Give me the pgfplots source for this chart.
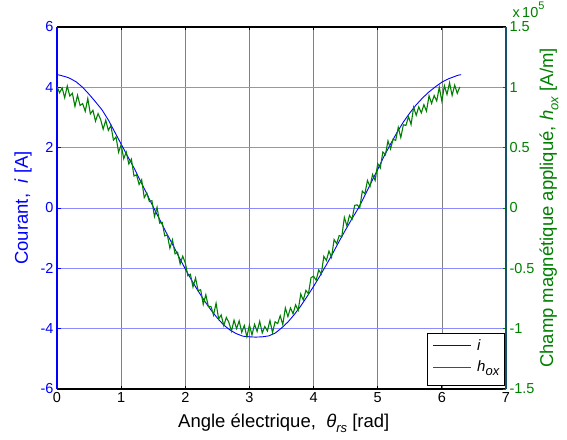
\documentclass[border=0pt]{standalone}
\usepackage{fontspec}
\setmainfont{Liberation Sans}
\usepackage{pgfplots}
\pgfplotsset{compat=1.18}
\definecolor{mblue}{rgb}{0,0,1}
\definecolor{mgreen}{rgb}{0,0.5,0}
\definecolor{rspine}{rgb}{0.08,0.32,0.42}
\newcommand\tickfont{\fontsize{14.5}{16}\selectfont}
\newcommand\labfont{\fontsize{18.5}{21}\selectfont}
\newcommand\subfont{\fontsize{13}{14}\selectfont}
\newcommand\legfont{\fontsize{15}{17}\selectfont}
\pgfplotsset{base/.style={at={(57pt,50pt)}, anchor=south west, scale only axis,
  width=449pt, height=362pt, xmin=0, xmax=7,
  /pgf/number format/assume math mode=true, tick label style={font=\tickfont}}}
\begin{document}
\begin{tikzpicture}
\path[use as bounding box] (0,0) rectangle (567pt,439pt);
% vertical grid
\begin{axis}[base, ymin=-6, ymax=6, xtick={1,2,3,4,5,6}, ytick=\empty,
  xticklabels={,,}, xmajorgrids, major grid style={black!50, line width=0.7pt},
  axis line style={draw=none}, major tick length=0pt]
\end{axis}
% horizontal grid
\begin{axis}[base, ymin=-6, ymax=6, xtick=\empty, ytick={-4,-2,0,2,4},
  yticklabels={,,}, ymajorgrids, major grid style={blue!45, line width=0.7pt},
  axis line style={draw=none}, major tick length=0pt]
\end{axis}
% left axis: current
\begin{axis}[base, ymin=-6, ymax=6, axis x line*=box, axis y line*=left,
  xtick={0,1,2,3,4,5,6,7}, ytick={-6,-4,-2,0,2,4,6},
  tick align=inside, major tick length=3.5pt,
  x axis line style={black, line width=1.6pt, -},
  y axis line style={mblue, line width=1.6pt, -},
  xtick style={black, line width=0.8pt},
  ytick style={mblue, line width=0.8pt},
  yticklabel style={text=mblue}, xticklabel style={text=black},
  clip mode=individual]
\addplot[mblue, line width=0.9pt] coordinates {
(0,4.42)(0.05,4.40)(0.1,4.37)(0.15,4.34)(0.2,4.30)(0.3,4.18)(0.4,4.0)(0.5,3.77)
(0.6,3.52)(0.7,3.26)(0.8,2.92)(0.9,2.52)(1.0,2.12)(1.1,1.72)(1.2,1.33)(1.3,0.9)
(1.4,0.47)(1.5,0.04)(1.6,-0.38)(1.7,-0.8)(1.8,-1.2)(1.9,-1.62)(2.0,-2.02)(2.1,-2.4)
(2.2,-2.75)(2.3,-3.08)(2.4,-3.38)(2.5,-3.65)(2.6,-3.88)(2.7,-4.05)(2.8,-4.17)
(2.9,-4.25)(3.0,-4.27)(3.1,-4.28)(3.2,-4.27)(3.3,-4.24)(3.4,-4.15)(3.5,-3.98)
(3.6,-3.78)(3.7,-3.53)(3.8,-3.25)(3.9,-2.93)(4.0,-2.6)(4.1,-2.25)(4.2,-1.88)
(4.3,-1.5)(4.4,-1.1)(4.5,-0.72)(4.6,-0.35)(4.7,0.0)(4.8,0.42)(4.9,0.85)(5.0,1.28)
(5.1,1.72)(5.2,2.12)(5.3,2.5)(5.4,2.85)(5.5,3.15)(5.6,3.42)(5.7,3.65)(5.8,3.85)
(5.9,4.02)(6.0,4.17)(6.1,4.28)(6.2,4.36)(6.25,4.40)(6.3,4.42)};
\node[font=\labfont, anchor=base] at ([yshift=-38pt]rel axis cs:0.505,0)
  {Angle électrique,\ \ \textit{θ}\raisebox{-0.55ex}{\subfont\textit{rs}} [rad]};
\node[font=\labfont, text=mblue, rotate=90, anchor=center] at ([xshift=-34pt]rel axis cs:0,0.5)
  {Courant,\ \ \textit{i} [A]};
\end{axis}
% right axis: field
\begin{axis}[base, ymin=-1.5, ymax=1.5, axis x line=none, axis y line*=right,
  ytick={-1.5,-1,-0.5,0,0.5,1,1.5},
  tick align=inside, major tick length=3.5pt,
  y axis line style={rspine, line width=1.6pt, -},
  ytick style={mgreen, line width=0.8pt},
  yticklabel style={text=mgreen},
  clip mode=individual]
\addplot[mgreen, line width=1.1pt] coordinates {
(0.00,1.005)(0.04,0.955)(0.08,0.995)(0.12,0.914)(0.16,1.011)(0.20,0.928)(0.24,0.950)
(0.28,0.842)(0.32,0.935)(0.36,0.850)(0.40,0.865)(0.44,0.801)(0.48,0.907)(0.52,0.780)
(0.56,0.810)(0.60,0.720)(0.64,0.782)(0.68,0.734)(0.72,0.653)(0.76,0.728)(0.80,0.643)
(0.84,0.683)(0.88,0.563)(0.92,0.589)(0.96,0.462)(1.00,0.525)(1.04,0.409)(1.08,0.463)
(1.12,0.365)(1.16,0.405)(1.20,0.265)(1.24,0.275)(1.28,0.195)(1.32,0.235)(1.36,0.085)
(1.40,0.125)(1.44,0.053)(1.48,0.061)(1.52,-0.071)(1.56,0.007)(1.60,-0.125)(1.64,-0.118)
(1.68,-0.231)(1.72,-0.223)(1.76,-0.333)(1.80,-0.263)(1.84,-0.380)(1.88,-0.367)
(1.92,-0.463)(1.96,-0.399)(2.00,-0.455)(2.04,-0.562)(2.08,-0.549)(2.12,-0.655)
(2.16,-0.580)(2.20,-0.685)(2.24,-0.677)(2.28,-0.799)(2.32,-0.719)(2.36,-0.817)
(2.40,-0.815)(2.44,-0.887)(2.48,-0.789)(2.52,-0.919)(2.56,-0.887)(2.60,-0.975)
(2.64,-0.907)(2.68,-0.949)(2.72,-1.020)(2.76,-0.930)(2.80,-1.000)(2.84,-0.935)
(2.88,-1.030)(2.92,-0.974)(2.96,-1.067)(3.00,-0.970)(3.04,-1.052)(3.08,-0.964)
(3.12,-1.023)(3.16,-0.939)(3.20,-1.035)(3.24,-0.982)(3.28,-1.019)(3.32,-0.933)
(3.36,-1.033)(3.40,-0.943)(3.44,-0.958)(3.48,-0.893)(3.52,-0.966)(3.56,-0.828)
(3.60,-0.900)(3.64,-0.828)(3.68,-0.876)(3.72,-0.803)(3.76,-0.848)(3.80,-0.713)
(3.84,-0.763)(3.88,-0.683)(3.92,-0.711)(3.96,-0.578)(4.00,-0.565)(4.04,-0.599)
(4.08,-0.513)(4.12,-0.547)(4.16,-0.401)(4.20,-0.435)(4.24,-0.357)(4.28,-0.409)
(4.32,-0.262)(4.36,-0.295)(4.40,-0.228)(4.44,-0.238)(4.48,-0.078)(4.52,-0.149)
(4.56,-0.061)(4.60,-0.093)(4.64,0.022)(4.68,0.026)(4.72,0.002)(4.76,0.140)
(4.80,0.118)(4.84,0.228)(4.88,0.178)(4.92,0.278)(4.96,0.228)(5.00,0.368)
(5.04,0.331)(5.08,0.464)(5.12,0.442)(5.16,0.556)(5.20,0.490)(5.24,0.570)
(5.28,0.560)(5.32,0.668)(5.36,0.584)(5.40,0.690)(5.44,0.684)(5.48,0.758)
(5.52,0.692)(5.56,0.835)(5.60,0.768)(5.64,0.838)(5.68,0.788)(5.72,0.856)
(5.76,0.803)(5.80,0.930)(5.84,0.866)(5.88,0.932)(5.92,0.887)(5.96,1.001)
(6.00,0.885)(6.04,1.013)(6.08,0.941)(6.12,1.038)(6.16,0.933)(6.20,1.018)
(6.24,0.950)(6.28,1.003)};
\node[font=\tickfont, text=mgreen, anchor=base west] at ([xshift=3pt, yshift=9pt]rel axis cs:1,1)
  {x\,10\raisebox{8pt}{\fontsize{11}{12}\selectfont 5}};
\node[font=\labfont, text=mgreen, rotate=90, anchor=center] at ([xshift=43pt]rel axis cs:1,0.5)
  {Champ magnétique appliqué,\ \textit{h}\raisebox{-0.55ex}{\subfont\textit{ox}} [A/m]};
\end{axis}
% legend (plain TikZ, outside the axes); each sample drawn twice
\filldraw[draw=black, fill=white, line width=0.6pt] (427pt,54pt) rectangle (504pt,106pt);
\draw[draw=mblue, line width=0.8pt] (433pt,94pt) -- (471pt,94pt);
\draw[draw=mblue, line width=0.8pt] (433pt,94pt) -- (471pt,94pt);
\draw[draw=mgreen, line width=0.8pt] (433pt,72pt) -- (471pt,72pt);
\draw[draw=mgreen, line width=0.8pt] (433pt,72pt) -- (471pt,72pt);
\node[font=\legfont, anchor=west, inner sep=0pt] at (477pt,94pt) {\textit{i}};
\node[font=\legfont, anchor=west, inner sep=0pt] at (477pt,71pt)
  {\textit{h}\raisebox{-0.55ex}{\subfont\textit{ox}}};
\end{tikzpicture}
\end{document}
